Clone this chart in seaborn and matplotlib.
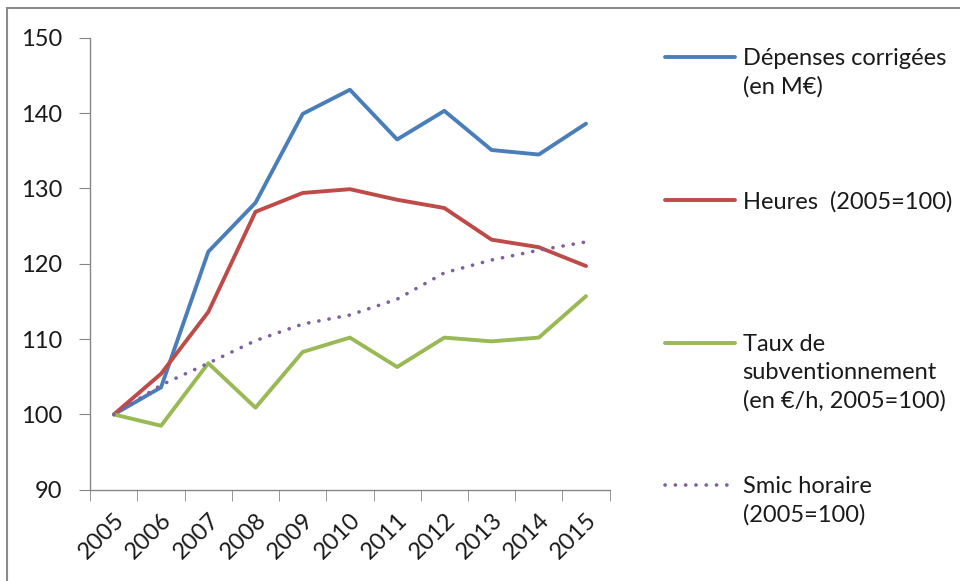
import pandas as pd
import matplotlib
matplotlib.use("Agg")
import matplotlib.pyplot as plt
import seaborn as sns
from matplotlib.patches import Rectangle
from matplotlib.text import Annotation

# Données
annees = ["2005", "2006", "2007", "2008", "2009", "2010", "2011", "2012", "2013", "2014", "2015"]
depenses = [100, 103.6, 121.6, 128.1, 139.9, 143.1, 136.5, 140.3, 135.1, 134.5, 138.6]
heures = [100, 105.4, 113.6, 126.9, 129.4, 129.9, 128.5, 127.4, 123.2, 122.2, 119.7]
taux = [100, 98.5, 106.8, 100.9, 108.3, 110.2, 106.3, 110.2, 109.7, 110.2, 115.7]
smic = [100, 103.9, 106.8, 109.8, 112.0, 113.2, 115.3, 118.8, 120.5, 121.8, 122.9]

# première ligne de la légende + lignes suivantes
labels = ["Dépenses corrigées", "Heures  (2005=100)", "Taux de", "Smic horaire"]
suites = ["(en M€)", "", "subventionnement\n(en €/h, 2005=100)", "(2005=100)"]
series = [depenses, heures, taux, smic]
couleurs = ["#4a7ebb", "#be4b48", "#98b954", "#7d60a0"]

sns.set_style("white")
plt.rcParams['font.family'] = ['Lato', 'DejaVu Sans']

fig = plt.figure(figsize=(9.6, 5.81), dpi=100)
ax = fig.add_axes([0.094, 0.157, 0.541, 0.778])

for lab, vals, col in zip(labels, series, couleurs):
    df = pd.DataFrame({"annee": range(len(annees)), "valeur": vals})
    if lab.startswith("Smic"):
        sns.lineplot(data=df, x="annee", y="valeur", ax=ax, color=col, lw=2.6,
                     label=lab, linestyle=(0, (0.05, 2.8)), dash_capstyle="round")
    else:
        sns.lineplot(data=df, x="annee", y="valeur", ax=ax, color=col, lw=2.8,
                     label=lab)

ax.set_xlim(-0.5, len(annees) - 0.5)
ax.set_ylim(90, 150)
ax.set_yticks(range(90, 151, 10))
ax.set_xticks(range(len(annees)))
ax.set_xticklabels(annees, rotation=45, ha="right", rotation_mode="anchor")
ax.set_xticks([i - 0.5 for i in range(len(annees) + 1)], minor=True)
ax.set_xlabel("")
ax.set_ylabel("")

for s in ["top", "right"]:
    ax.spines[s].set_visible(False)
for s in ["left", "bottom"]:
    ax.spines[s].set_color("#868686")
    ax.spines[s].set_linewidth(1)

ax.tick_params(axis="y", which="major", direction="out", length=8, color="#868686",
               labelsize=17, pad=12, left=True, labelcolor="#1a1a1a")
ax.tick_params(axis="x", which="major", length=0, labelsize=17, pad=14,
               labelcolor="#1a1a1a")
ax.tick_params(axis="x", which="minor", direction="out", length=8, color="#868686",
               bottom=True)

leg = ax.legend(loc="upper left", bbox_to_anchor=(1.106, 0.977), frameon=False,
                fontsize=17, handlelength=3.0, handletextpad=0.3, labelspacing=5.15,
                borderaxespad=0, borderpad=0)
for t, suite in zip(leg.get_texts(), suites):
    t.set_color("#1a1a1a")
    if suite:
        # lignes suivantes accrochées sous le texte de la légende
        ann = Annotation(suite, xy=(0, 0), xycoords=t, xytext=(0, -7),
                         textcoords="offset pixels", va="top", ha="left",
                         fontsize=17, color="#1a1a1a", linespacing=1.42,
                         annotation_clip=False, zorder=10)
        fig.add_artist(ann)

# cadre gris autour du graphique
fig.patches.append(Rectangle((7 / 960, -0.1), 1.2, 1 - 8 / 581 + 0.1,
                             transform=fig.transFigure, fill=False,
                             edgecolor="#8c8c8c", lw=1.5))

fig.savefig("out.png", dpi=100)
